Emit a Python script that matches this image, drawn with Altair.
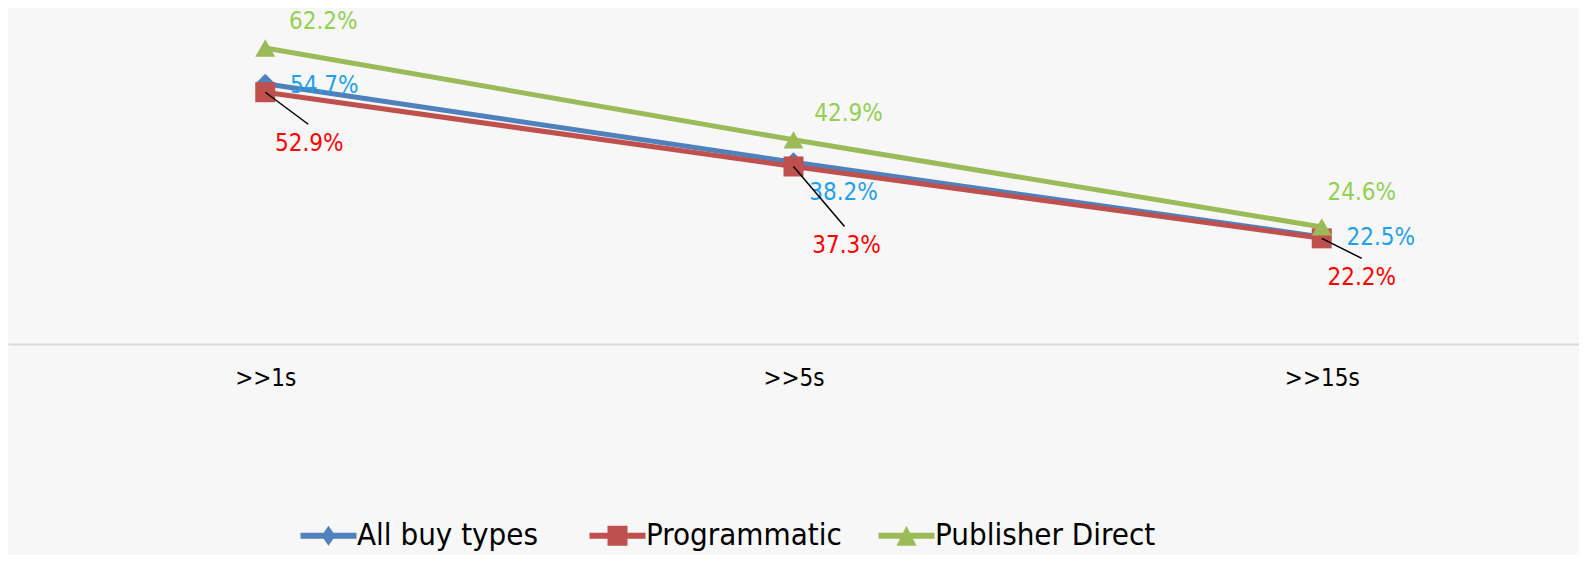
import altair as alt
import pandas as pd

# ---- data ----
categories = [">>1s", ">>5s", ">>15s"]
series_names = ["All buy types", "Programmatic", "Publisher Direct"]
all_buy_types = [54.7, 38.2, 22.5]
programmatic = [52.9, 37.3, 22.2]
publisher_direct = [62.2, 42.9, 24.6]

# ---- styling ----
line_colors = ["#4f81bd", "#c0504d", "#9bbb59"]
label_colors = ["#1ea0f0", "#ff0000", "#92d050"]
marker_shapes = ["diamond", "square", "triangle-up"]
# pixel offsets of each value label from its point (series x category)
label_dx = [[59, 50, 59], [44, 53, 40], [58, 55, 40]]
label_dy = [[2, 31, 1], [52, 80, 40], [-26, -26, -34]]
# leader lines (only Programmatic labels), as custom symbol paths (r = 100 px)
leader_paths = ["M0,0L0.43,0.32", "M0,0L0.51,0.60", "M0,0L0.40,0.20"]
# legend symbols: line + marker, unit = 14 px
legend_paths = [
    "M-1,-0.214L0.65,-0.214L1,-0.714L1.35,-0.214L3,-0.214L3,0.214L1.35,0.214L1,0.714L0.65,0.214L-1,0.214Z",
    "M-1,-0.214L0.286,-0.214L0.286,-0.714L1.714,-0.714L1.714,-0.214L3,-0.214L3,0.214L1.714,0.214L1.714,0.714L0.286,0.714L0.286,0.214L-1,0.214Z",
    "M-1,-0.214L0.75,-0.214L1,-0.714L1.25,-0.214L3,-0.214L3,0.214L1.464,0.214L1.714,0.714L0.286,0.714L0.536,0.214L-1,0.214Z",
]
FONT = "DejaVu Sans Condensed"

values = [all_buy_types, programmatic, publisher_direct]
rows = []
for s, vals in zip(series_names, values):
    for c, v in zip(categories, vals):
        rows.append({"series": s, "category": c, "value": v, "label": f"{v:.1f}%"})
df = pd.DataFrame(rows)

x_enc = alt.X("category:N", sort=categories,
              scale=alt.Scale(type="point", padding=0.487),
              axis=alt.Axis(title=None, ticks=False, labelAngle=0, labelFont=FONT,
                            labelFontSize=24, labelColor="#000000", labelPadding=22,
                            domainColor="#d9d9d9", domainWidth=2, grid=False))
y_enc = alt.Y("value:Q", scale=alt.Scale(domain=[0, 70.6], nice=False, zero=True),
              axis=None)

base = alt.Chart(df)

color_scale = alt.Scale(domain=series_names, range=line_colors)

lines = base.mark_line(strokeWidth=5).encode(
    x=x_enc, y=y_enc,
    color=alt.Color("series:N", scale=color_scale, legend=None),
)

points = base.mark_point(filled=True, size=400, opacity=1, strokeWidth=0).encode(
    x=x_enc, y=y_enc,
    color=alt.Color("series:N", scale=color_scale, legend=None),
    shape=alt.Shape("series:N", scale=alt.Scale(domain=series_names, range=marker_shapes), legend=None),
)

layers = [lines, points]

# value labels
for si, s in enumerate(series_names):
    for ci, c in enumerate(categories):
        layers.append(
            base.transform_filter(
                (alt.datum.series == s) & (alt.datum.category == c)
            ).mark_text(font=FONT, fontSize=24, color=label_colors[si], align="center",
                        baseline="middle", dx=label_dx[si][ci], dy=label_dy[si][ci]).encode(
                x=x_enc, y=y_enc, text="label:N")
        )

# leader lines for Programmatic labels
for ci, c in enumerate(categories):
    layers.append(
        base.transform_filter(
            (alt.datum.series == "Programmatic") & (alt.datum.category == c)
        ).mark_point(shape=leader_paths[ci], size=40000, filled=False, stroke="#000000",
                     strokeWidth=1.5, opacity=1).encode(x=x_enc, y=y_enc)
    )

legend_opts = dict(orient="none", legendX=291, legendY=512,
                   direction="horizontal", title=None,
                   labelFont=FONT, labelFontSize=31, labelColor="#000000",
                   labelLimit=600, labelOffset=27,
                   symbolSize=784, symbolStrokeWidth=0, symbolOpacity=1,
                   gridAlign="all", columnPadding=10)

# legend layer (invisible marks, visible legend)
legend_layer = base.mark_point(filled=True, opacity=0, size=10).encode(
    x=x_enc, y=y_enc,
    color=alt.Color("series:N", scale=alt.Scale(domain=series_names, range=line_colors),
                    legend=alt.Legend(**legend_opts)),
    shape=alt.Shape("series:N", scale=alt.Scale(domain=series_names, range=legend_paths),
                    legend=alt.Legend(**legend_opts)),
)
layers.append(legend_layer)

chart = alt.layer(*layers).resolve_scale(
    color="independent", shape="independent"
).properties(
    width=1571, height=336,
    padding={"left": 0, "top": 0, "right": 0, "bottom": 211},
    autosize=alt.AutoSizeParams(type="none"),
    background="#f7f7f7",
).configure_view(strokeWidth=0)

chart.save("out.html", embed_options={"renderer": "svg", "actions": False})
